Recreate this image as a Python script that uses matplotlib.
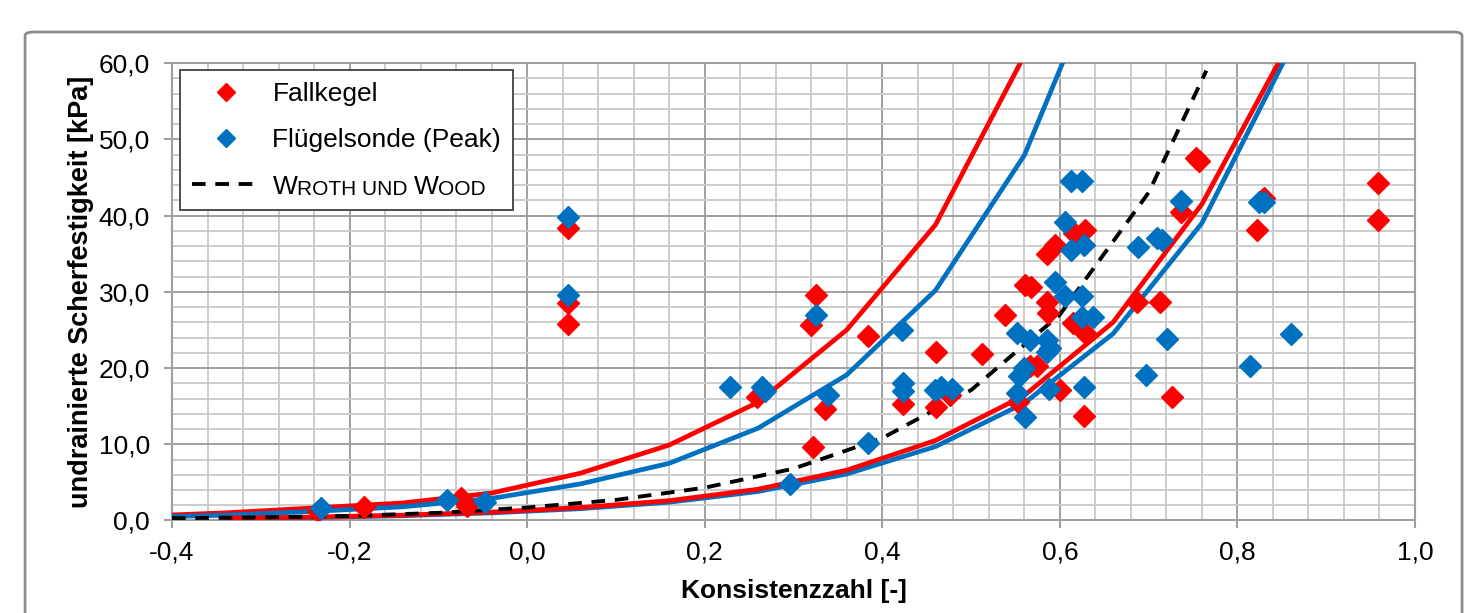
import matplotlib
matplotlib.use("Agg")
import matplotlib.pyplot as plt
from matplotlib.patches import FancyBboxPatch
from matplotlib.lines import Line2D
from matplotlib.ticker import MultipleLocator, FuncFormatter

plt.rcParams['font.family'] = ['Liberation Sans', 'DejaVu Sans']

# Messwerte Fallkegel
fk_ic = [-0.235, -0.184, -0.075, -0.068, 0.046, 0.046, 0.046, 0.259, 0.325, 0.320,
         0.336, 0.322, 0.384, 0.423, 0.460, 0.476, 0.461, 0.512, 0.538, 0.561,
         0.567, 0.553, 0.566, 0.574, 0.586, 0.587, 0.586, 0.594, 0.616, 0.628,
         0.615, 0.628, 0.600, 0.627, 0.687, 0.713, 0.737, 0.753, 0.757, 0.726,
         0.830, 0.822, 0.958, 0.958]
fk_cu = [1.2, 1.8, 2.9, 1.9, 38.4, 28.5, 25.8, 16.2, 29.6, 25.7,
         14.6, 9.6, 24.2, 15.3, 14.9, 16.5, 22.1, 21.8, 27.0, 30.9,
         30.6, 15.5, 20.2, 20.2, 28.7, 27.2, 35.0, 36.1, 37.7, 38.1,
         25.9, 24.6, 17.1, 13.7, 28.7, 28.7, 40.5, 47.5, 47.2, 16.2,
         42.3, 38.1, 44.3, 39.4]

# Messwerte Fluegelsonde (Peak)
fs_ic = [-0.232, -0.090, -0.047, 0.046, 0.046, 0.228, 0.264, 0.268, 0.325, 0.339,
         0.384, 0.296, 0.422, 0.423, 0.423, 0.459, 0.466, 0.478, 0.552, 0.566,
         0.586, 0.589, 0.586, 0.560, 0.554, 0.552, 0.561, 0.588, 0.627, 0.594,
         0.606, 0.612, 0.625, 0.612, 0.627, 0.606, 0.625, 0.625, 0.637, 0.688,
         0.709, 0.715, 0.737, 0.721, 0.697, 0.824, 0.830, 0.814, 0.860]
fs_cu = [1.6, 2.7, 2.4, 39.8, 29.6, 17.5, 17.5, 17.0, 27.0, 16.5,
         10.1, 4.8, 25.0, 18.0, 17.0, 17.1, 17.5, 17.3, 24.6, 23.7,
         23.7, 22.6, 22.1, 20.0, 18.9, 16.7, 13.6, 17.3, 17.5, 31.3,
         39.1, 44.5, 44.5, 35.5, 36.1, 29.4, 29.4, 26.7, 26.7, 35.9,
         37.0, 36.8, 41.9, 23.8, 19.1, 41.8, 41.8, 20.2, 24.5]

# Grenzkurven
kurve_ic_oben = [-0.44, -0.34, -0.24, -0.14, -0.04, 0.06, 0.16, 0.26, 0.36, 0.46, 0.56, 0.66]
fk_oben = [0.55, 1.0, 1.65, 2.3, 3.6, 6.2, 9.9, 15.5, 25.0, 38.8, 61.0, None]
fs_oben = [0.4, 0.7, 1.2, 1.8, 2.9, 4.8, 7.5, 12.1, 19.1, 30.2, 47.9, 76.0]

kurve_ic_unten = [-0.34, -0.24, -0.14, -0.04, 0.06, 0.16, 0.26, 0.36, 0.46, 0.56, 0.66, 0.76, 0.86]
fk_unten = [0.3, 0.45, 0.7, 1.1, 1.7, 2.6, 4.1, 6.6, 10.5, 16.4, 26.0, 41.5, 63.0]
fs_unten = [0.25, 0.4, 0.63, 1.0, 1.55, 2.4, 3.8, 6.1, 9.7, 15.4, 24.5, 39.0, 62.0]

# Wroth und Wood
ww_ic = [-0.4, -0.3, -0.2, -0.1, 0.0, 0.1, 0.2, 0.3, 0.4, 0.5, 0.6, 0.7, 0.765]
ww_cu = [0.3, 0.4, 0.6, 1.0, 1.7, 2.7, 4.3, 6.8, 10.8, 17.1, 27.0, 43.0, 59.0]

rot = '#ff0000'
blau = '#0070c0'

fig = plt.figure(figsize=(14.84, 6.13), dpi=100)
ax = fig.add_axes([0.1159, 0.1509, 0.9535 - 0.1159, 0.8972 - 0.1509])

rahmen = FancyBboxPatch((0.0169, -0.05), 0.9683, 0.9978,
                        boxstyle="round,pad=0,rounding_size=0.006",
                        transform=fig.transFigure, facecolor='white',
                        edgecolor='#8c8c8c', linewidth=2, zorder=-10)
fig.patches.append(rahmen)

def ohne_none(xs, ys):
    paare = [(a, b) for a, b in zip(xs, ys) if b is not None]
    return [p[0] for p in paare], [p[1] for p in paare]

x1, y1 = ohne_none(kurve_ic_oben, fk_oben)
ax.plot(x1, y1, color=rot, lw=3.4, zorder=3)
ax.plot(kurve_ic_oben, fs_oben, color=blau, lw=3.4, zorder=3)
ax.plot(kurve_ic_unten, fs_unten, color=blau, lw=3.4, zorder=3)
ax.plot(kurve_ic_unten, fk_unten, color=rot, lw=3.4, zorder=3)
ax.plot(ww_ic, ww_cu, color='black', lw=2.8, ls=(0, (3.5, 2.5)), zorder=4)

ax.plot(fk_ic, fk_cu, ls='none', marker='D', ms=11.5, color=rot, mec=rot, zorder=5)
ax.plot(fs_ic, fs_cu, ls='none', marker='D', ms=11.5, color=blau, mec=blau, zorder=6)

ax.set_xlim(-0.4, 1.0)
ax.set_ylim(0, 60)
ax.xaxis.set_major_locator(MultipleLocator(0.2))
ax.xaxis.set_minor_locator(MultipleLocator(0.04))
ax.yaxis.set_major_locator(MultipleLocator(10))
ax.yaxis.set_minor_locator(MultipleLocator(2))
komma = FuncFormatter(lambda v, p: ('%.1f' % v).replace('.', ','))
ax.xaxis.set_major_formatter(komma)
ax.yaxis.set_major_formatter(komma)

ax.grid(True, which='major', color='#9a9a9a', lw=1.3, zorder=0)
ax.grid(True, which='minor', color='#c8c8c8', lw=1.3, zorder=0)
ax.set_axisbelow(True)
for s in ax.spines.values():
    s.set_color('#a0a0a0')
    s.set_linewidth(1.5)

ax.tick_params(which='major', length=6, width=1.2, color='#8c8c8c', labelsize=19)
ax.tick_params(axis='x', which='major', pad=8.5)
ax.tick_params(axis='y', which='major', pad=10)
ax.tick_params(which='minor', length=0)

ax.set_xlabel('Konsistenzzahl [-]', fontsize=19, fontweight='bold', labelpad=10)
ax.set_ylabel('undrainierte Scherfestigkeit [kPa]', fontsize=19.5, fontweight='bold', labelpad=3)

handles = [Line2D([], [], ls='none', marker='D', ms=9, color=rot),
           Line2D([], [], ls='none', marker='D', ms=9, color=blau),
           Line2D([], [], color='black', lw=2.8, ls=(0, (3.5, 2.5)))]
leg = ax.legend(handles, ['Fallkegel', 'Flügelsonde (Peak)', 'W'],
                loc='upper left', bbox_to_anchor=(0.0065, 0.985),
                fontsize=19, frameon=True, fancybox=False, edgecolor='#404040',
                framealpha=1, handlelength=2.6, handletextpad=0.45,
                labelspacing=0.85, borderpad=0.45, borderaxespad=0)
leg.get_frame().set_linewidth(1.3)

wt = leg.get_texts()[2]
t1 = ax.annotate('ROTH UND ', xy=(1, 0), xycoords=wt, va='bottom', ha='left',
                 fontsize=15, zorder=10)
t2 = ax.annotate('W', xy=(1, 0), xycoords=t1, va='bottom', ha='left',
                 fontsize=19, zorder=10)
t3 = ax.annotate('OOD', xy=(1, 0), xycoords=t2, va='bottom', ha='left',
                 fontsize=15, zorder=10)

fig.savefig('out.png', dpi=100)
